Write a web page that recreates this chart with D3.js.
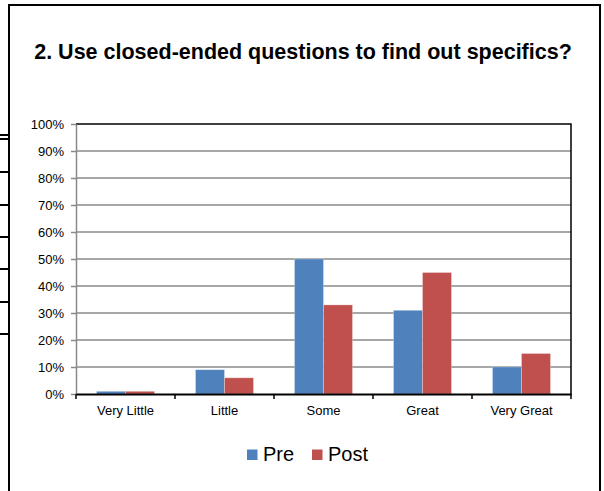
<!DOCTYPE html>
<html>
<head>
<meta charset="utf-8">
<script src="https://cdn.jsdelivr.net/npm/d3@7"></script>
<style>
  html, body { margin: 0; padding: 0; background: #fff; }
  svg { display: block; font-family: Arial, "Liberation Sans", sans-serif; }
</style>
</head>
<body>
<svg id="chart" width="604" height="491"></svg>
<script>
// Survey responses: share of answers per rating, before and after
const categories = ["Very Little", "Little", "Some", "Great", "Very Great"];
const seriesNames = ["Pre", "Post"];
const preValues = [0.01, 0.09, 0.50, 0.31, 0.10];
const postValues = [0.01, 0.06, 0.33, 0.45, 0.15];
const yTickValues = [0, 0.1, 0.2, 0.3, 0.4, 0.5, 0.6, 0.7, 0.8, 0.9, 1.0];
const titleText = "2. Use closed-ended questions to find out specifics?";

const colors = { Pre: "#4F81BD", Post: "#C0504D" };
const values = { Pre: preValues, Post: postValues };

const svg = d3.select("#chart");

// Frame around the whole chart
svg.append("rect")
  .attr("x", 9).attr("y", 5)
  .attr("width", 591).attr("height", 500)
  .attr("fill", "#fff")
  .attr("stroke", "#000").attr("stroke-width", 2);

// Edges of the table lines sitting behind the chart on the left
[135, 139, 172, 205, 237, 269, 302, 334].forEach(y => {
  svg.append("line")
    .attr("x1", 0).attr("x2", 8)
    .attr("y1", y).attr("y2", y)
    .attr("stroke", "#000").attr("stroke-width", 2);
});

// Title
svg.append("text")
  .attr("x", 303).attr("y", 59)
  .attr("text-anchor", "middle")
  .attr("font-weight", "bold")
  .attr("font-size", "21.5px")
  .attr("fill", "#000")
  .text(titleText);

// Plot area
const plot = { left: 76, right: 571, top: 124, bottom: 394 };

const x0 = d3.scaleBand()
  .domain(categories)
  .range([plot.left, plot.right])
  .paddingInner(0).paddingOuter(0);

const x1 = d3.scaleBand()
  .domain(seriesNames)
  .range([0, x0.bandwidth()])
  .paddingInner(0)
  .paddingOuter(0.707);

const y = d3.scaleLinear()
  .domain([0, 1])
  .range([plot.bottom, plot.top]);

// Horizontal gridlines
svg.append("g")
  .selectAll("line")
  .data(yTickValues.filter(v => v > 0 && v < 1))
  .join("line")
  .attr("x1", plot.left).attr("x2", plot.right)
  .attr("y1", d => y(d)).attr("y2", d => y(d))
  .attr("stroke", "#8a8a8a").attr("stroke-width", 1.5);

// Bars
const groups = svg.append("g")
  .selectAll("g")
  .data(categories)
  .join("g")
  .attr("transform", d => `translate(${x0(d)},0)`);

groups.selectAll("rect")
  .data((c, i) => seriesNames.map(s => ({ s, v: values[s][i] })))
  .join("rect")
  .attr("x", d => x1(d.s))
  .attr("y", d => y(d.v))
  .attr("width", x1.bandwidth())
  .attr("height", d => y(0) - y(d.v))
  .attr("fill", d => colors[d.s])
  .attr("stroke", "rgba(255,255,255,0.35)")
  .attr("stroke-width", 0.8);

// Plot border: top and right edges
svg.append("path")
  .attr("d", `M${plot.left},${plot.top}H${plot.right}V${plot.bottom}`)
  .attr("fill", "none")
  .attr("stroke", "#000").attr("stroke-width", 1.5);

// Y axis
const yAxis = d3.axisLeft(y)
  .tickValues(yTickValues)
  .tickFormat(d3.format(".0%"))
  .tickSizeInner(5).tickSizeOuter(0).tickPadding(7);

const yg = svg.append("g")
  .attr("transform", `translate(${plot.left},0)`)
  .call(yAxis);
yg.select(".domain").attr("stroke", "#8a8a8a").attr("stroke-width", 1.5);
yg.selectAll(".tick line").attr("stroke", "#8a8a8a").attr("stroke-width", 1.5);
yg.selectAll(".tick text")
  .attr("font-size", "13px")
  .attr("font-family", "Arial, 'Liberation Sans', sans-serif")
  .attr("fill", "#000");

// X axis with tick marks at category boundaries
const xAxis = d3.axisBottom(x0)
  .tickSize(0).tickPadding(12);

const xg = svg.append("g")
  .attr("transform", `translate(0,${plot.bottom})`)
  .call(xAxis);
xg.select(".domain").attr("stroke", "#000").attr("stroke-width", 2);
xg.selectAll(".tick text")
  .attr("font-size", "13px")
  .attr("font-family", "Arial, 'Liberation Sans', sans-serif")
  .attr("fill", "#000");

const boundaries = categories.map(c => x0(c)).concat([x0(categories[categories.length - 1]) + x0.bandwidth()]);
xg.selectAll("line.boundary")
  .data(boundaries)
  .join("line")
  .attr("class", "boundary")
  .attr("x1", d => d).attr("x2", d => d)
  .attr("y1", 0).attr("y2", 5)
  .attr("stroke", "#000").attr("stroke-width", 1.5);

// Legend
const legend = svg.append("g");
const legendX = { Pre: 247, Post: 312 };
seriesNames.forEach(s => {
  legend.append("rect")
    .attr("x", legendX[s]).attr("y", 449.5)
    .attr("width", 10.5).attr("height", 10.5)
    .attr("fill", colors[s]);
  legend.append("text")
    .attr("x", legendX[s] + 16).attr("y", 461)
    .attr("font-size", "20px")
    .attr("fill", "#000")
    .text(s);
});
</script>
</body>
</html>
